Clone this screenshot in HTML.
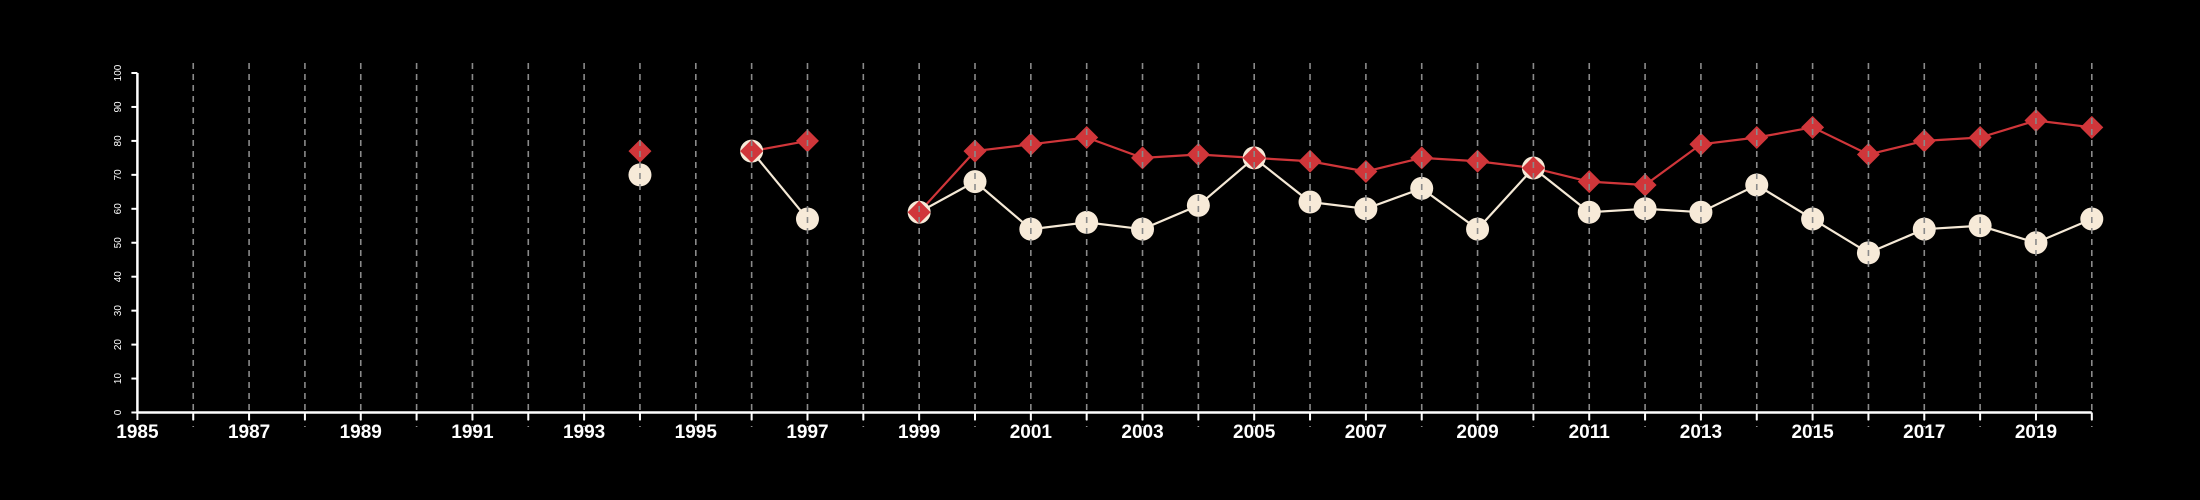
<!DOCTYPE html>
<html><head><meta charset="utf-8"><style>
html,body{margin:0;padding:0;background:#000;width:2200px;height:500px;overflow:hidden}
svg{display:block}
</style></head><body>
<svg id="chart" width="2200" height="500" xmlns="http://www.w3.org/2000/svg">
<rect width="2200" height="500" fill="#000"/>
<g id="grid"></g>
<g id="series"></g>
<g id="axes"></g>
</svg>
<script>
const years = [1994,1996,1997,1999,2000,2001,2002,2003,2004,2005,2006,2007,2008,2009,2010,2011,2012,2013,2014,2015,2016,2017,2018,2019,2020];
const redValues = [77,77,80,59,77,79,81,75,76,75,74,71,75,74,72,68,67,79,81,84,76,80,81,86,84];
const whiteValues = [70,77,57,59,68,54,56,54,61,75,62,60,66,54,72,59,60,59,67,57,47,54,55,50,57];
const xTickLabels = [1985,1987,1989,1991,1993,1995,1997,1999,2001,2003,2005,2007,2009,2011,2013,2015,2017,2019];
const yTickLabels = [0,10,20,30,40,50,60,70,80,90,100];

const NS='http://www.w3.org/2000/svg';
const X0=137.4, PX=55.84, Y0=412.5, Y100=73;
function x(yr){return X0+PX*(yr-1985);}
function y(v){return Y0-(Y0-Y100)*v/100;}
function mk(tag,attrs,parent){const e=document.createElementNS(NS,tag);for(const k in attrs)e.setAttribute(k,attrs[k]);parent.appendChild(e);return e;}
const grid=document.getElementById('grid'), ser=document.getElementById('series'), axes=document.getElementById('axes');

function segments(vals){const segs=[];let cur=[];years.forEach((yr,i)=>{if(i>0&&yr-years[i-1]>1){segs.push(cur);cur=[];}cur.push([x(yr),y(vals[i])]);});segs.push(cur);return segs;}
function drawLine(vals,color,name){segments(vals).forEach(s=>{if(s.length<2)return;const p=mk('polyline',{points:s.map(q=>q.join(',')).join(' '),fill:'none',stroke:color,'stroke-width':2.2},ser);

});}
drawLine(whiteValues,'#f5e9d6','white-series-line');
drawLine(redValues,'#d0363a','red-series-line');
years.forEach((yr,i)=>{const c=mk('circle',{cx:x(yr),cy:y(whiteValues[i]),r:11.5,fill:'#f7ead8'},ser);

});
years.forEach((yr,i)=>{const cx=x(yr),cy=y(redValues[i]),h=11.5;const d=mk('polygon',{points:`${cx},${cy-h} ${cx+h},${cy} ${cx},${cy+h} ${cx-h},${cy}`,fill:'#d0363a'},ser);

});

for(let yr=1986;yr<=2020;yr++){const g=mk('line',{x1:x(yr),x2:x(yr),y1:63,y2:427,stroke:'#8a8a8a','stroke-width':1.6,'stroke-dasharray':'6,5'},grid);

}
document.getElementById('chart').appendChild(grid);
document.getElementById('chart').appendChild(axes);

const xa=mk('line',{x1:X0,x2:x(2020),y1:Y0,y2:Y0,stroke:'#fff','stroke-width':2.5},axes);


const ya=mk('line',{x1:X0,x2:X0,y1:Y100,y2:Y0,stroke:'#fff','stroke-width':2.5},axes);


for(let yr=1985;yr<=2020;yr++){const t=mk('line',{x1:x(yr),x2:x(yr),y1:Y0,y2:420,stroke:'#fff','stroke-width':2},axes);

}
xTickLabels.forEach(v=>{const t=mk('text',{x:x(v),y:438,'text-anchor':'middle',fill:'#fff','font-family':'Liberation Sans, sans-serif','font-weight':'bold','font-size':19},axes);t.textContent=v;

});
yTickLabels.forEach(v=>{const t=mk('line',{x1:X0-6,x2:X0,y1:y(v),y2:y(v),stroke:'#fff','stroke-width':2},axes);


const l=mk('text',{x:0,y:0,transform:`translate(121,${y(v)}) rotate(-90)`,'text-anchor':'middle',fill:'#fff','font-family':'Liberation Sans, sans-serif','font-size':10},axes);l.textContent=v;

});
</script>
</body></html>
